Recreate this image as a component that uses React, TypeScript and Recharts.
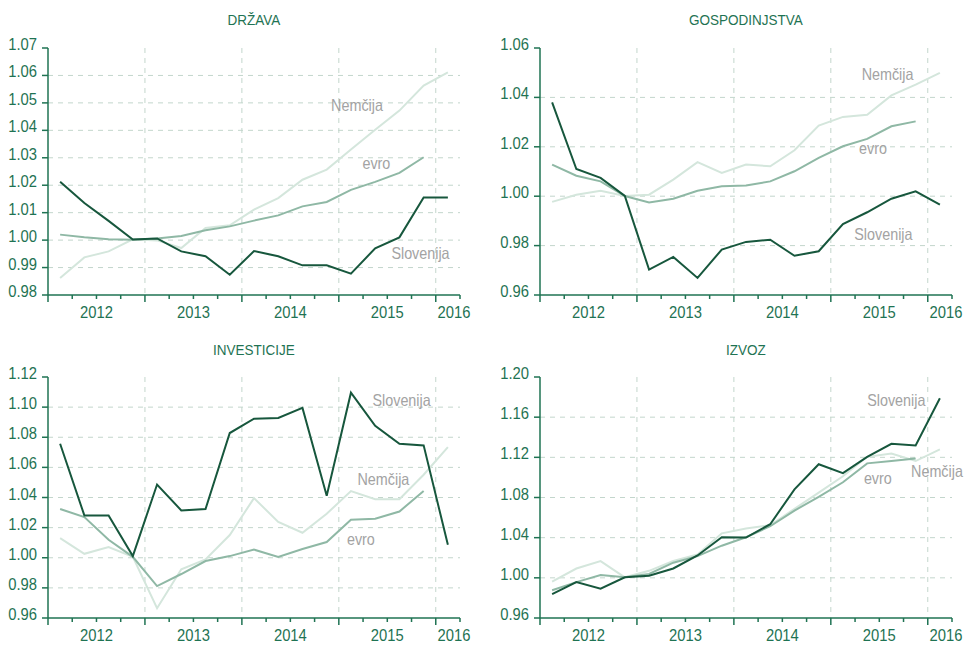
import { LineChart, Line, XAxis, YAxis, CartesianGrid, ReferenceDot } from 'recharts';

// quarters 2012Q1 .. 2016Q1 (evro ends at 2015Q4)
const quarters = ['2012Q1', '2012Q2', '2012Q3', '2012Q4', '2013Q1', '2013Q2', '2013Q3', '2013Q4', '2014Q1', '2014Q2', '2014Q3', '2014Q4', '2015Q1', '2015Q2', '2015Q3', '2015Q4', '2016Q1'];

const yearLabels: Record<string, string> = { '2': '2012', '6': '2013', '10': '2014', '14': '2015', '16.75': '2016' };

const drzavaSlo = [1.0213, 1.0135, 1.007, 1.0002, 1.0006, 0.9959, 0.9941, 0.9874, 0.996, 0.9941, 0.9908, 0.9908, 0.9878, 0.997, 1.001, 1.0155, 1.0155];
const drzavaEvro = [1.002, 1.001, 1.0003, 1.0001, 1.0006, 1.0015, 1.0036, 1.005, 1.0071, 1.009, 1.0123, 1.0139, 1.0183, 1.0212, 1.0245, 1.0302];
const drzavaNem = [0.9862, 0.9937, 0.9959, 1.0003, 0.9999, 0.9971, 1.0044, 1.0054, 1.0111, 1.0153, 1.022, 1.0257, 1.033, 1.0402, 1.0472, 1.0563, 1.0611];

const gospSlo = [1.038, 1.011, 1.0074, 1.0001, 0.9703, 0.9754, 0.9669, 0.9784, 0.9815, 0.9824, 0.9759, 0.9777, 0.9887, 0.9935, 0.999, 1.002, 0.9966];
const gospEvro = [1.0128, 1.0083, 1.006, 1.0001, 0.9975, 0.999, 1.0022, 1.004, 1.0043, 1.006, 1.0101, 1.0155, 1.0202, 1.0232, 1.0283, 1.0303];
const gospNem = [0.9977, 1.0006, 1.0022, 1.0001, 1.0006, 1.0067, 1.0138, 1.0094, 1.0128, 1.0121, 1.0186, 1.0286, 1.0321, 1.033, 1.0408, 1.0452, 1.0499];

const invSlo = [1.0757, 1.0281, 1.0281, 1.0011, 1.0486, 1.0314, 1.0324, 1.0828, 1.0923, 1.0928, 1.0995, 1.0411, 1.1096, 1.0876, 1.0757, 1.0746, 1.0086];
const invEvro = [1.0324, 1.027, 1.0119, 1.0006, 0.9812, 0.9892, 0.9978, 1.0011, 1.0054, 1.0006, 1.0058, 1.0104, 1.0253, 1.0259, 1.0307, 1.0443];
const invNem = [1.013, 1.0026, 1.0071, 1.0006, 0.9665, 0.9924, 0.9989, 1.0151, 1.0396, 1.0238, 1.0166, 1.0292, 1.0443, 1.0389, 1.0389, 1.0551, 1.0735];

const izvozSlo = [0.9837, 0.9957, 0.9892, 1.0005, 1.0021, 1.0093, 1.0223, 1.0404, 1.0401, 1.0534, 1.0881, 1.1131, 1.1043, 1.1205, 1.1335, 1.1319, 1.1789];
const izvozEvro = [0.9876, 0.9957, 1.0028, 1.0005, 1.0038, 1.0151, 1.0216, 1.032, 1.0404, 1.0514, 1.067, 1.0806, 1.0952, 1.114, 1.1163, 1.1189];
const izvozNem = [0.9963, 1.0093, 1.0167, 1.0005, 1.007, 1.0167, 1.0232, 1.0443, 1.0492, 1.0524, 1.0686, 1.0849, 1.1011, 1.1205, 1.1238, 1.1163, 1.128];

const ticksDrzava = [0.98, 0.99, 1.0, 1.01, 1.02, 1.03, 1.04, 1.05, 1.06, 1.07];
const ticksGosp = [0.96, 0.98, 1.0, 1.02, 1.04, 1.06];
const ticksInv = [0.96, 0.98, 1.0, 1.02, 1.04, 1.06, 1.08, 1.1, 1.12];
const ticksIzvoz = [0.96, 1.0, 1.04, 1.08, 1.12, 1.16, 1.2];

const FONT = '"Liberation Sans", Arial, sans-serif';
const SQUEEZE = 0.87; // reference uses a condensed face
const GREEN = '#1f7353';
const SLO = '#17573d';
const EVRO = '#8fb8a5';
const NEM = '#d4e6dc';
const LABEL = '#a3a3a3';
const GRID = '#c3d6cc';

const xTicks = [...Array.from({ length: 18 }, (_, i) => i), 16.75].sort((a, b) => a - b);

function build(slo: number[], evro: number[], nem: number[]) {
  return quarters.map((q, i) => ({
    q,
    x: i + 0.5,
    slo: slo[i] ?? null,
    evro: evro[i] ?? null,
    nem: nem[i] ?? null,
  }));
}

function NarrowText({ x, y, anchor, fill, size, children }: any) {
  return (
    <text
      transform={`translate(${x},${y}) scale(${SQUEEZE},1)`}
      textAnchor={anchor}
      fill={fill}
      fontSize={size}
      fontFamily={FONT}
    >
      {children}
    </text>
  );
}

function XTick(props: any) {
  const { x, y, payload } = props;
  const v = payload.value as number;
  const isInt = Number.isInteger(v);
  const major = isInt && v % 4 === 0;
  const label = yearLabels[String(v)];
  return (
    <g>
      {isInt && <line x1={x} x2={x} y1={y} y2={y + (major ? 7 : 4)} stroke={GREEN} strokeWidth={1.5} />}
      {label && (
        <NarrowText x={x} y={y + 23} anchor="middle" fill={GREEN} size={17}>
          {label}
        </NarrowText>
      )}
    </g>
  );
}

function YTick(props: any) {
  const { x, y, payload } = props;
  return (
    <NarrowText x={x} y={y + 2} anchor="end" fill={GREEN} size={17}>
      {(payload.value as number).toFixed(2)}
    </NarrowText>
  );
}

interface SeriesLabel {
  text: string;
  x: number;
  y: number;
}

interface PanelProps {
  title: string;
  left: number;
  top: number;
  width: number;
  height: number;
  marginLeft: number;
  marginRight: number;
  marginTop: number;
  ticks: number[];
  slo: number[];
  evro: number[];
  nem: number[];
  labels: SeriesLabel[];
}

function Panel(p: PanelProps) {
  const data = build(p.slo, p.evro, p.nem);
  const domain = [p.ticks[0], p.ticks[p.ticks.length - 1]];
  const plotLeft = p.marginLeft + 40;
  const plotRight = p.width - p.marginRight;
  return (
    <div style={{ position: 'absolute', left: p.left, top: p.top, width: p.width, height: p.height }}>
      <div
        style={{
          position: 'absolute',
          left: plotLeft,
          width: plotRight - plotLeft,
          top: 11,
          textAlign: 'center',
          color: GREEN,
          fontFamily: FONT,
          fontSize: 15,
          transform: 'scaleX(0.9)',
        }}
      >
        {p.title}
      </div>
      <LineChart
        width={p.width}
        height={p.height}
        data={data}
        margin={{ top: p.marginTop, right: p.marginRight, left: p.marginLeft, bottom: 0 }}
      >
        <CartesianGrid
          stroke={GRID}
          strokeDasharray="5 5"
          horizontalValues={p.ticks.slice(1, -1)}
          verticalValues={[4, 8, 12, 16]}
        />
        <XAxis
          dataKey="x"
          type="number"
          domain={[0, 17]}
          ticks={xTicks}
          interval={0}
          tickSize={0}
          tickMargin={0}
          tickLine={false}
          axisLine={{ stroke: GREEN, strokeWidth: 1.5 }}
          tick={<XTick />}
          height={30}
          allowDataOverflow
        />
        <YAxis
          type="number"
          domain={domain}
          ticks={p.ticks}
          interval={0}
          width={40}
          tickSize={6}
          tickMargin={5}
          tickLine={{ stroke: GREEN, strokeWidth: 1.5 }}
          axisLine={{ stroke: GREEN, strokeWidth: 1.5 }}
          tick={<YTick />}
        />
        <Line dataKey="nem" stroke={NEM} strokeWidth={2} dot={false} isAnimationActive={false} connectNulls={false} />
        <Line dataKey="evro" stroke={EVRO} strokeWidth={2} dot={false} isAnimationActive={false} connectNulls={false} />
        <Line dataKey="slo" stroke={SLO} strokeWidth={2} dot={false} isAnimationActive={false} connectNulls={false} />
        {p.labels.map((l) => (
          <ReferenceDot
            key={l.text}
            x={l.x}
            y={l.y}
            r={0}
            ifOverflow="visible"
            shape={(s: any) => (
              <NarrowText x={s.cx} y={s.cy + 6} anchor="middle" fill={LABEL} size={16.5}>
                {l.text}
              </NarrowText>
            )}
          />
        ))}
      </LineChart>
    </div>
  );
}

export default function App() {
  return (
    <div style={{ position: 'absolute', left: 0, top: 0, width: 967, height: 648, background: '#fff', overflow: 'hidden' }}>
      <Panel
        title="DRŽAVA"
        left={0}
        top={0}
        width={480}
        height={325}
        marginLeft={8}
        marginRight={20}
        marginTop={48}
        ticks={ticksDrzava}
        slo={drzavaSlo}
        evro={drzavaEvro}
        nem={drzavaNem}
        labels={[
          { text: 'Nemčija', x: 12.75, y: 1.0492 },
          { text: 'evro', x: 13.55, y: 1.0281 },
          { text: 'Slovenija', x: 15.37, y: 0.9953 },
        ]}
      />
      <Panel
        title="GOSPODINJSTVA"
        left={480}
        top={0}
        width={487}
        height={325}
        marginLeft={20}
        marginRight={15}
        marginTop={48}
        ticks={ticksGosp}
        slo={gospSlo}
        evro={gospEvro}
        nem={gospNem}
        labels={[
          { text: 'Nemčija', x: 14.34, y: 1.0495 },
          { text: 'evro', x: 13.74, y: 1.0195 },
          { text: 'Slovenija', x: 14.17, y: 0.9847 },
        ]}
      />
      <Panel
        title="INVESTICIJE"
        left={0}
        top={330}
        width={480}
        height={318}
        marginLeft={8}
        marginRight={20}
        marginTop={47}
        ticks={ticksInv}
        slo={invSlo}
        evro={invEvro}
        nem={invNem}
        labels={[
          { text: 'Slovenija', x: 14.59, y: 1.1044 },
          { text: 'Nemčija', x: 13.84, y: 1.0524 },
          { text: 'evro', x: 12.91, y: 1.0127 },
        ]}
      />
      <Panel
        title="IZVOZ"
        left={480}
        top={330}
        width={487}
        height={318}
        marginLeft={20}
        marginRight={15}
        marginTop={47}
        ticks={ticksIzvoz}
        slo={izvozSlo}
        evro={izvozEvro}
        nem={izvozNem}
        labels={[
          { text: 'Slovenija', x: 14.7, y: 1.1766 },
          { text: 'evro', x: 13.94, y: 1.0995 },
          { text: 'Nemčija', x: 16.38, y: 1.1063 },
        ]}
      />
    </div>
  );
}
